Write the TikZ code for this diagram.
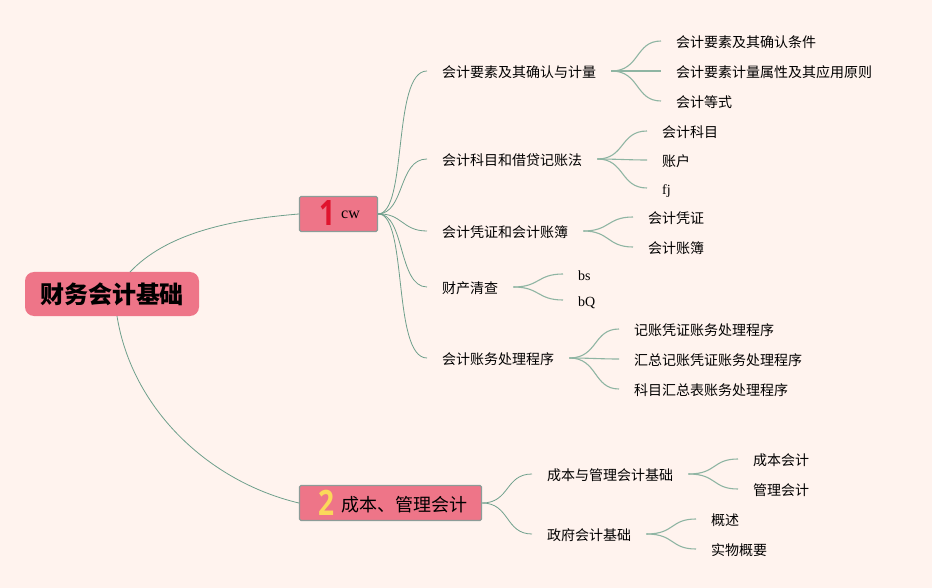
\documentclass[tikz,border=0pt]{standalone}
\usepackage{fontspec}
\setmainfont{Liberation Serif}
\newfontfamily\cjk{Noto Sans CJK SC}
\newfontfamily\numfont{Open Sans}
\usepackage[dvipsnames]{xcolor}
\usetikzlibrary{positioning,calc}
\definecolor{paper}{HTML}{FFF3EE}
\definecolor{boxpink}{HTML}{EE7588}
\definecolor{boxedge}{HTML}{8C9C98}
\definecolor{linkgreen}{HTML}{6FA08C}
\definecolor{sublink}{HTML}{8FB5A3}
\definecolor{onered}{HTML}{E0142E}
\definecolor{twoyellow}{HTML}{FBD85A}
\tikzset{
  rootbox/.style={fill=boxpink,rounded corners=9pt,minimum width=174pt,minimum height=44pt,inner sep=0pt,font=\cjk\fontsize{24}{24}\selectfont\bfseries},
  topicbox/.style={fill=boxpink,draw=boxedge,line width=1.2pt,rounded corners=1.5pt,minimum height=35pt,inner sep=0pt},
  topictext/.style={anchor=west,inner sep=0pt},
  num/.style={inner sep=0pt,font=\numfont\fontsize{35}{35}\selectfont\bfseries},
  leaf/.style={anchor=west,inner xsep=15pt,inner ysep=0pt,text height=16pt,text depth=3pt,font=\cjk\fontsize{14}{14}\selectfont},
  latinleaf/.style={leaf,font=\fontsize{14}{14}\selectfont},
  link/.style={linkgreen,line width=.8pt},
  twig/.style={sublink,line width=1.1pt}
}
\begin{document}
\begin{tikzpicture}[x=1pt,y=-1pt]
    \fill[paper] (0,0) rectangle (932,588);
    \useasboundingbox (0,0) rectangle (932,588);

    \node[rootbox] (root) at (112,294) {\raisebox{-1pt}{财务会计基础}};
    \coordinate (roottop) at (130,272);
    \coordinate (rootbottom) at (117,316);

    % topics
    \node[topicbox,minimum width=78pt] (cw) at (338.5,214) {};
    \node[num,text=onered,xscale=.8,transform shape] (cwnum) at (327,213) {1};
    \node[topictext,font=\fontsize{16}{16}\selectfont] (cwtext) at (341,215) {cw};
    \node[topicbox,minimum width=182pt] (cost) at (390.5,503) {};
    \node[num,text=twoyellow,xscale=.8,transform shape] (costnum) at (326,503) {2};
    \node[topictext,font=\cjk\fontsize{18}{18}\selectfont] (costtext) at (341,505) {成本、管理会计};

    \draw[link] (roottop) .. controls (165,235) and (225,220) .. (cw.west);
    \draw[link] (rootbottom) .. controls (132,410) and (210,482) .. (cost.west);

    % first level
    \node[leaf] (elem) at (427,71) {会计要素及其确认与计量};
    \node[leaf] (subj) at (427,159) {会计科目和借贷记账法};
    \node[leaf] (vouch) at (427,231) {会计凭证和会计账簿};
    \node[leaf] (count) at (427,287) {财产清查};
    \node[leaf] (proc) at (427,358) {会计账务处理程序};
    \node[leaf] (base) at (532,474) {成本与管理会计基础};
    \node[leaf] (gov) at (532,534) {政府会计基础};

    \draw[link] (cw.east) .. controls (408,213) and (392,71) .. (elem.west);
    \draw[link] (cw.east) .. controls (405,213) and (398,159) .. (subj.west);
    \draw[link] (cw.east) .. controls (402,213) and (402,231) .. (vouch.west);
    \draw[link] (cw.east) .. controls (405,213) and (398,287) .. (count.west);
    \draw[link] (cw.east) .. controls (408,213) and (392,358) .. (proc.west);
    \draw[link] (cost.east) .. controls (510,503) and (505,474) .. (base.west);
    \draw[link] (cost.east) .. controls (510,503) and (505,534) .. (gov.west);

    % second level
    \node[leaf] (elemA) at (661,41) {会计要素及其确认条件};
    \node[leaf] (elemB) at (661,71) {会计要素计量属性及其应用原则};
    \node[leaf] (elemC) at (661,101) {会计等式};
    \node[leaf] (subjA) at (647,131) {会计科目};
    \node[leaf] (subjB) at (647,160) {账户};
    \node[latinleaf] (subjC) at (647,188) {fj};
    \node[leaf] (vouchA) at (633,217) {会计凭证};
    \node[leaf] (vouchB) at (633,247) {会计账簿};
    \node[latinleaf] (countA) at (563,274) {bs};
    \node[latinleaf] (countB) at (563,300) {bQ};
    \node[leaf] (procA) at (619,329) {记账凭证账务处理程序};
    \node[leaf] (procB) at (619,359) {汇总记账凭证账务处理程序};
    \node[leaf] (procC) at (619,389) {科目汇总表账务处理程序};
    \node[leaf] (baseA) at (738,459) {成本会计};
    \node[leaf] (baseB) at (738,489) {管理会计};
    \node[leaf] (govA) at (696,519) {概述};
    \node[leaf] (govB) at (696,549) {实物概要};

    \draw[twig] (elem.east) .. controls (640,71) and (635,41) .. (elemA.west);
    \draw[twig] (elem.east) -- (elemB.west);
    \draw[twig] (elem.east) .. controls (640,71) and (635,101) .. (elemC.west);
    \draw[twig] (subj.east) .. controls (625,159) and (620,131) .. (subjA.west);
    \draw[twig] (subj.east) .. controls (615,159) and (630,160) .. (subjB.west);
    \draw[twig] (subj.east) .. controls (625,159) and (620,188) .. (subjC.west);
    \draw[twig] (vouch.east) .. controls (610,231) and (607,217) .. (vouchA.west);
    \draw[twig] (vouch.east) .. controls (610,231) and (607,247) .. (vouchB.west);
    \draw[twig] (count.east) .. controls (540,287) and (537,274) .. (countA.west);
    \draw[twig] (count.east) .. controls (540,287) and (537,300) .. (countB.west);
    \draw[twig] (proc.east) .. controls (598,358) and (593,329) .. (procA.west);
    \draw[twig] (proc.east) .. controls (590,358) and (600,359) .. (procB.west);
    \draw[twig] (proc.east) .. controls (598,358) and (593,389) .. (procC.west);
    \draw[twig] (base.east) .. controls (717,474) and (712,459) .. (baseA.west);
    \draw[twig] (base.east) .. controls (717,474) and (712,489) .. (baseB.west);
    \draw[twig] (gov.east) .. controls (675,534) and (670,519) .. (govA.west);
    \draw[twig] (gov.east) .. controls (675,534) and (670,549) .. (govB.west);
\end{tikzpicture}
\end{document}
